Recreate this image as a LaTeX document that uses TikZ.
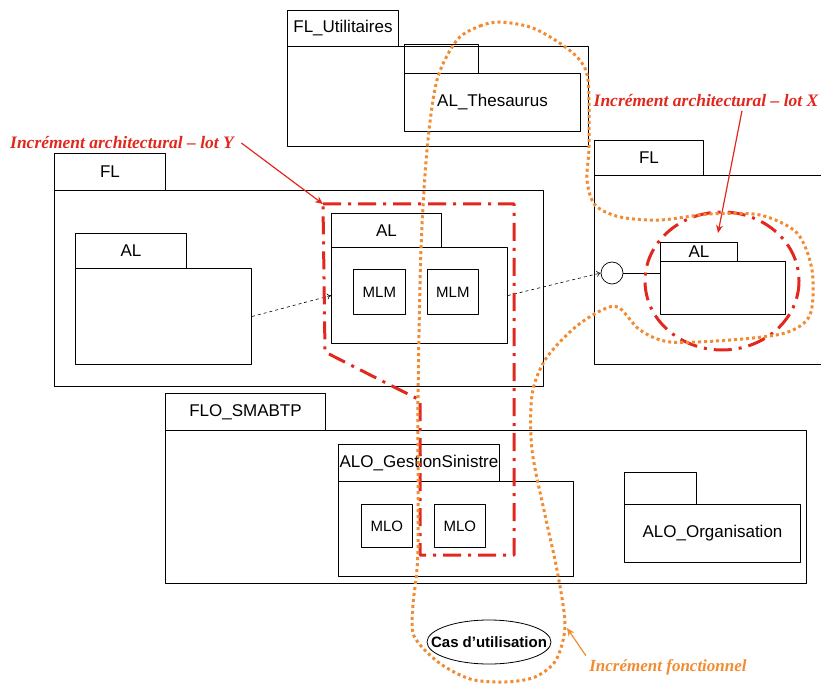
\documentclass[tikz,border=0pt]{standalone}
\usepackage{fontspec}
\setmainfont{Liberation Sans}
\newfontfamily\notefont{Liberation Serif}
\usetikzlibrary{arrows.meta,shapes.geometric}
\definecolor{lotred}{HTML}{E2281E}
\definecolor{fctorange}{HTML}{F28C32}
\tikzset{
  every picture/.style={line join=round, >=Stealth},
  tab/.style={draw, line width=1pt, anchor=north west, inner sep=0pt, font=\fontsize{17}{17}\selectfont},
  body/.style={draw, line width=1pt, anchor=north west, inner sep=0pt, font=\fontsize{17}{17}\selectfont},
  mod/.style={draw, line width=0.8pt, anchor=north west, inner sep=0pt, font=\fontsize{15}{15}\selectfont},
  dep/.style={dashed, line width=0.6pt, -{To[length=4pt,width=6pt]}},
  lot/.style={draw=lotred, line width=3pt, dash pattern=on 18pt off 7pt on 3pt off 7pt},
  fct/.style={draw=fctorange, line width=3pt, dash pattern=on 3pt off 3pt},
  note/.style={font=\notefont\bfseries\itshape\fontsize{17.5}{17.5}\selectfont},
}

\begin{document}
\begin{tikzpicture}[x=1pt,y=-1pt]
\useasboundingbox (0,0) rectangle (821,684);
\clip (0,0) rectangle (821,684);
% FL_Utilitaires
\node[tab, minimum width=111, minimum height=36] (flUtab) at (287,10) {FL\_Utilitaires};
\node[body, minimum width=301, minimum height=100] (flUbody) at (287,46) {};
\node[tab, minimum width=74, minimum height=29] (thesTab) at (404,44) {};
\node[body, minimum width=176, minimum height=58] (thesBody) at (404,73) {AL\_Thesaurus};
% FL gauche
\node[tab, minimum width=111, minimum height=37] (flTab) at (54,153) {FL};
\node[body, minimum width=489, minimum height=196] (flBody) at (54,190) {};
\node[tab, minimum width=111, minimum height=35] (alLtab) at (75,233) {AL};
\node[body, minimum width=176, minimum height=96] (alLbody) at (75,268) {};
\node[tab, minimum width=110, minimum height=34] (alCtab) at (331,213) {AL};
\node[body, minimum width=176, minimum height=96] (alCbody) at (331,247) {};
\node[mod, minimum width=52, minimum height=45] (mlmA) at (353,269) {MLM};
\node[mod, minimum width=51, minimum height=45] (mlmB) at (427,269) {MLM};
% FL droite
\node[tab, minimum width=109, minimum height=35] (flRtab) at (594,140) {FL};
\node[body, minimum width=240, minimum height=189] (flRbody) at (594,175) {};
\node[tab, minimum width=77, minimum height=19] (alRtab) at (660,242) {AL};
\node[body, minimum width=125, minimum height=53] (alRbody) at (660,261) {};
\node[draw, circle, line width=0.7pt, minimum size=22, inner sep=0pt] (iface) at (612,273) {};
% FLO_SMABTP
\node[tab, minimum width=160, minimum height=37] (floTab) at (165,393) {FLO\_SMABTP};
\node[body, minimum width=641, minimum height=153] (floBody) at (165,430) {};
\node[tab, minimum width=161, minimum height=37] (gsTab) at (338,444) {ALO\_GestionSinistre};
\node[body, minimum width=235, minimum height=95] (gsBody) at (338,481) {};
\node[mod, minimum width=51, minimum height=43] (mloA) at (361,504) {MLO};
\node[mod, minimum width=51, minimum height=43] (mloB) at (434,504) {MLO};
\node[tab, minimum width=72, minimum height=32] (orgTab) at (624,472) {};
\node[body, minimum width=176, minimum height=58] (orgBody) at (624,504) {ALO\_Organisation};
% cas d'utilisation
\node[inner sep=0pt, font=\bfseries\fontsize{15}{15}\selectfont] (cu) at (489,642) {Cas d’utilisation};
\draw[line width=0.8pt] (cu.center) ellipse [x radius=62, y radius=22];
% dependances
\draw[dep] (alLbody.east) -- (alCbody.west);
\draw[dep] (alCbody.east) -- (iface.west);
\draw[line width=0.7pt] (iface.east) -- (iface.east -| alRbody.west);
% increments architecturaux
\draw[lot] (323,204) -- (514,204) -- (514,555) -- (420,555) -- (420,400) -- (392,386) -- (325,352) -- cycle;
\draw[lot] (722,281) ellipse [x radius=77, y radius=69];
\node[note, text=lotred] (lotY) at (122,143) {Incrément architectural – lot Y};
\node[note, text=lotred] (lotX) at (706,101) {Incrément architectural – lot X};
\coordinate (lotYtip) at (323,204);
\coordinate (lotXtip) at (718,233);
\draw[lotred, line width=1.2pt, -{Stealth[length=8pt,width=7pt]}] ([xshift=4]lotY.east) -- (lotYtip);
\draw[lotred, line width=1.2pt, -{Stealth[length=8pt,width=7pt]}] ([xshift=36]lotX.south) -- (lotXtip);
% increment fonctionnel
\draw[fct] plot[smooth cycle] coordinates {(457,40) (480,26) (500,22) (530,27) (555,40) (578,58) (588,80)
  (589,146) (587,180) (595,205) (620,217) (660,220) (710,214) (760,215) (797,233) (812,270) (810,315)
  (785,333) (730,340) (670,342) (640,330) (618,307) (598,312) (572,330) (545,360) (532,395) (532,450)
  (545,515) (557,570) (565,625) (556,660) (535,677) (505,682) (470,679) (438,662) (414,636) (413,605)
  (418,550) (418,400) (421,250) (427,150) (437,80)};
\node[note, text=fctorange, font=\notefont\bfseries\itshape\fontsize{17}{17}\selectfont] (fct) at (668,667) {Incrément fonctionnel};
\coordinate (fctTip) at (567,628);
\draw[fctorange, line width=1.2pt, -{Stealth[length=8pt,width=7pt]}] (fct.north west) -- (fctTip);
\end{tikzpicture}
\end{document}
